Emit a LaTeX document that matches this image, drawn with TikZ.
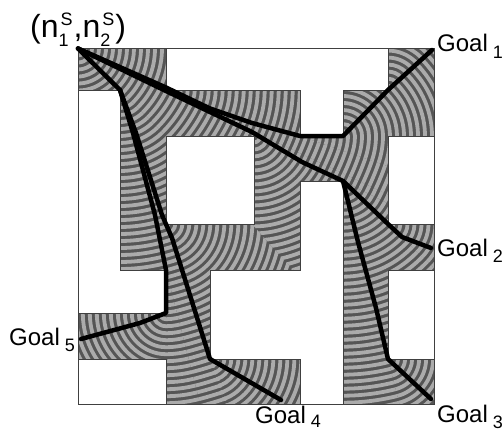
\documentclass[tikz,border=0pt]{standalone}
\usepackage{fontspec}
\setmainfont{Liberation Sans}
\usepackage{xcolor}
\definecolor{ringdark}{HTML}{555555}
\definecolor{ringlight}{HTML}{ABABAB}
\newcommand{\ringstep}{7}
% rings around #1, already #2 from the start, kept inside #3
\newcommand{\rings}[3]{%
  \begin{scope}
    \clip #3;
    \foreach \k in {0,...,90} {
      \pgfmathsetmacro{\rad}{\k*\ringstep-#2}
      \ifdim\rad pt>0pt
        \draw[ring] (#1) circle (\rad pt);
      \fi
    }
  \end{scope}
}
\newcommand{\goalname}[2][-6pt]{Goal\hspace{5pt}\raisebox{#1}{\fontsize{18}{18}\selectfont #2}}
\newcommand{\startpart}[1]{n\rlap{\raisebox{-9.5pt}{\fontsize{18}{18}\selectfont #1}}\hspace{2pt}\raisebox{11pt}{\fontsize{18}{18}\selectfont S}\hspace{1pt}}
\begin{document}
\begin{tikzpicture}[
    x=1pt, y=-1pt,
    ring/.style={draw=ringlight, line width=3.8pt},
    wall/.style={fill=white, draw=black!75, line width=1pt},
    route/.style={draw=black, line width=4.5pt, line join=round, line cap=round},
    goal/.style={inner sep=0pt, anchor=base west, font=\fontsize{24}{24}\selectfont},
  ]
  \useasboundingbox (0,0) rectangle (504,431);

  \coordinate (start) at (78,48.5);
  \coordinate (c1) at (120,90);
  \coordinate (c2) at (166,90);
  \coordinate (c3) at (300,136);
  \coordinate (c4) at (343,136);
  \coordinate (c5) at (254,136);
  \coordinate (c6) at (343,181);
  \coordinate (c7) at (166,224);
  \coordinate (c8) at (166,270);
  \coordinate (c9) at (166,313);
  \coordinate (c10) at (210,359);
  \coordinate (c11) at (388,90);
  \coordinate (c12) at (388,224);
  \coordinate (c13) at (388,359);

  \fill[ringdark] (start) rectangle (434,404);

  \rings{start}{0}{(start) -- (166,48.5) -- (c2) -- (388,194.7) -- (388,203.5) -- (c5) -- (166,136) -- (c1) -- (78,90) -- cycle}
  \rings{c1}{59}{(c1) -- (166,136) -- (c7) -- (227.8,404) -- (200.2,404) -- (c8) -- (120,270) -- cycle}
  \rings{c2}{97.3}{(c2) -- (300,90) -- (c3) -- (388,166.3) -- (388,194.7) -- cycle}
  \rings{c3}{239}{(c3) -- (388,136) -- (388,166.3) -- cycle}
  \rings{c4}{282}{(c4) -- (343,90) -- (c11) -- (429.5,48.5) -- (434,48.5) -- (434,136) -- cycle}
  \rings{c11}{345.6}{(c11) -- (388,48.5) -- (429.5,48.5) -- cycle}
  \rings{c5}{196.6}{(c5) -- (c6) -- (300,181) -- (300,270) -- (294,270) -- (272,247) -- (252,224) -- (254,224) -- cycle}
  \rings{c6}{296.3}{(c6) -- (388,203.5) -- (c12) -- (434,268) -- (434,270) -- (388,270) -- (c13) -- (399.4,404) -- (343,404) -- cycle}
  \rings{c12}{358.5}{(c12) -- (434,224) -- (434,268) -- cycle}
  \rings{c13}{479.9}{(c13) -- (434,359) -- (434,404) -- (399.4,404) -- cycle}
  \rings{c7}{200.7}{(c7) -- (252,224) -- (272,247) -- (294,270) -- (210,270) -- (c10) -- (224.7,404) -- (227.8,404) -- cycle}
  \rings{c8}{244.8}{(c8) -- (200.2,404) -- (166,404) -- cycle}
  \rings{c9}{287.8}{(c9) -- (166,359) -- (78,359) -- (78,313) -- cycle}
  \rings{c10}{342.7}{(c10) -- (300,359) -- (300,404) -- (224.7,404) -- cycle}

  \draw[wall] (78,90) -- (c1) -- (120,270) -- (c8) -- (c9) -- (78,313) -- cycle;
  \draw[wall] (166,48.5) -- (388,48.5) -- (c11) -- (343,90) -- (c4) -- (c3) -- (300,90) -- (c2) -- cycle;
  \draw[wall] (166,136) rectangle (254,224);
  \draw[wall] (388,136) rectangle (434,224);
  \draw[wall] (388,270) rectangle (434,359);
  \draw[wall] (78,359) rectangle (166,404);
  \draw[wall] (300,181) -- (c6) -- (343,404) -- (300,404) -- (300,359) -- (c10) -- (210,270) -- (300,270) -- cycle;
  \draw[black!75, line width=1pt] (start) rectangle (434,404);

  \node[goal] (name1) at (437,52) {\goalname{1}};
  \node[goal] (name2) at (437,256) {\goalname{2}};
  \node[goal] (name3) at (437,422) {\goalname{3}};
  \node[goal] (name4) at (255,423) {\goalname[-4pt]{4}};
  \node[goal] (name5) at (9,345) {\goalname{5}};
  \node[goal, font=\fontsize{32}{32}\selectfont] (startname) at (30,37) {(\startpart{1},\startpart{2})};

  \coordinate (goal1) at (432,50);
  \coordinate (goal2) at (431,248);
  \coordinate (goal3) at (431,399);
  \coordinate (goal4) at (281,400);
  \coordinate (goal5) at (81,339);
  \coordinate (bend1a) at (166,87.5);
  \coordinate (bend1b) at (210,108.5);
  \coordinate (bend1c) at (252,123);
  \coordinate (bend2a) at (166,91);
  \coordinate (bend2b) at (210,112);
  \coordinate (bend2c) at (252,132);
  \coordinate (bend2d) at (302,162);
  \coordinate (bend2e) at (402,237);
  \coordinate (bend3a) at (358,242);
  \coordinate (bend3b) at (376,308);
  \coordinate (bend4a) at (136,133);
  \coordinate (bend4b) at (162,215);
  \coordinate (bend4c) at (172,238);
  \coordinate (bend5a) at (133,133);
  \coordinate (bend5b) at (155,215);
  \coordinate (bend5c) at (140,323);

  \draw[route] (start) -- (bend1a) -- (bend1b) -- (bend1c) -- (c3) -- (c4) -- (c11) -- (goal1);
  \draw[route] (start) -- (bend2a) -- (bend2b) -- (bend2c) -- (bend2d) -- (c6) -- (c12) -- (bend2e) -- (goal2);
  \draw[route] (c6) -- (bend3a) -- (bend3b) -- (c13) -- (goal3);
  \draw[route] (start) -- (c1) -- (bend4a) -- (bend4b) -- (bend4c) -- (c10) -- (goal4);
  \draw[route] (c1) -- (bend5a) -- (bend5b) -- (c8) -- (c9) -- (bend5c) -- (goal5);
\end{tikzpicture}
\end{document}
